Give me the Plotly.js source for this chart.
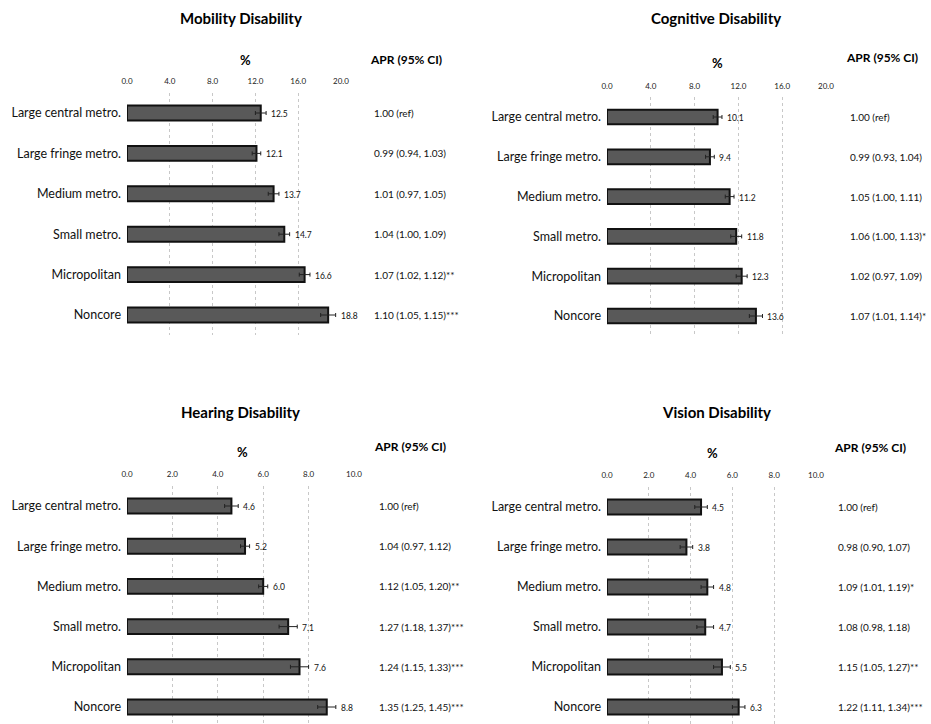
<!DOCTYPE html>
<html><head><meta charset="utf-8">
<script src="https://cdn.plot.ly/plotly-3.0.1.min.js"></script>
<style>html,body{margin:0;padding:0;background:#fff}#c{width:931px;height:724px}</style>
</head><body><div id="c"></div>
<script>
const categories = ["Large central metro.","Large fringe metro.","Medium metro.","Small metro.","Micropolitan","Noncore"];

const mobilityPct = [12.5,12.1,13.7,14.7,16.6,18.8];
const mobilityErr = [0.5,0.4,0.5,0.5,0.5,0.7];
const mobilityAPR = ["1.00 (ref)","0.99 (0.94, 1.03)","1.01 (0.97, 1.05)","1.04 (1.00, 1.09)","1.07 (1.02, 1.12)**","1.10 (1.05, 1.15)***"];

const cognitivePct = [10.1,9.4,11.2,11.8,12.3,13.6];
const cognitiveErr = [0.4,0.4,0.4,0.5,0.5,0.6];
const cognitiveAPR = ["1.00 (ref)","0.99 (0.93, 1.04)","1.05 (1.00, 1.11)","1.06 (1.00, 1.13)*","1.02 (0.97, 1.09)","1.07 (1.01, 1.14)*"];

const hearingPct = [4.6,5.2,6.0,7.1,7.6,8.8];
const hearingErr = [0.3,0.2,0.2,0.4,0.4,0.4];
const hearingAPR = ["1.00 (ref)","1.04 (0.97, 1.12)","1.12 (1.05, 1.20)**","1.27 (1.18, 1.37)***","1.24 (1.15, 1.33)***","1.35 (1.25, 1.45)***"];

const visionPct = [4.5,3.8,4.8,4.7,5.5,6.3];
const visionErr = [0.3,0.3,0.3,0.4,0.4,0.3];
const visionAPR = ["1.00 (ref)","0.98 (0.90, 1.07)","1.09 (1.01, 1.19)*","1.08 (0.98, 1.18)","1.15 (1.05, 1.27)**","1.22 (1.11, 1.34)***"];

const titles = ["Mobility Disability","Cognitive Disability","Hearing Disability","Vision Disability"];
const xTickVals20 = [0,4,8,12,16,20];
const xTickVals10 = [0,2,4,6,8,10];

const FONT = "Lato, 'Open Sans', sans-serif";
const W = 931, H = 724;
const px = v => v / W;
const py = v => 1 - v / H;

const panels = [
  {pct: mobilityPct, err: mobilityErr, apr: mobilityAPR, title: titles[0], ticks: xTickVals20, max: 20,
   xd: [127, 341], yd: [92.8, 335.2], yr: [5.5, -0.5], titleX: 241, titleY: 18, pctX: 245, pctY: 60, aprHX: 406, aprHY: 59, aprX: 372},
  {pct: cognitivePct, err: cognitiveErr, apr: cognitiveAPR, title: titles[1], ticks: xTickVals20, max: 20,
   xd: [607, 826], yd: [97.1, 335.9], yr: [5.5, -0.5], titleX: 716, titleY: 18, pctX: 717, pctY: 63, aprHX: 882, aprHY: 58, aprX: 848},
  {pct: hearingPct, err: hearingErr, apr: hearingAPR, title: titles[2], ticks: xTickVals10, max: 10,
   xd: [127, 354], yd: [485.9, 724], yr: [5.423, -0.5], titleX: 241, titleY: 412, pctX: 242, pctY: 452, aprHX: 410, aprHY: 446, aprX: 377},
  {pct: visionPct, err: visionErr, apr: visionAPR, title: titles[3], ticks: xTickVals10, max: 10,
   xd: [607, 816], yd: [487, 724], yr: [5.425, -0.5], titleX: 716, titleY: 412, pctX: 712, pctY: 453, aprHX: 870, aprHY: 447, aprX: 836}
];

const data = [];
const layout = {
  width: W, height: H,
  margin: {l: 0, r: 0, t: 0, b: 0},
  paper_bgcolor: "#fff", plot_bgcolor: "rgba(0,0,0,0)",
  showlegend: false,
  font: {family: FONT, color: "#111"},
  annotations: []
};

panels.forEach((p, i) => {
  const n = i + 1;
  const xa = n === 1 ? "x" : "x" + n;
  const ya = n === 1 ? "y" : "y" + n;
  data.push({
    type: "bar", orientation: "h",
    x: p.pct, y: categories,
    xaxis: xa, yaxis: ya,
    width: 0.37,
    marker: {color: "#595959", line: {color: "#111", width: 2}},
    error_x: {type: "data", array: p.err, visible: true, color: "#222", thickness: 1, width: 2},
    hoverinfo: "skip"
  });
  layout["xaxis" + (n === 1 ? "" : n)] = {
    domain: [px(p.xd[0]), px(p.xd[1])],
    anchor: ya, side: "top",
    range: [0, p.max], fixedrange: true,
    tickvals: p.ticks, ticktext: p.ticks.map(v => v.toFixed(1)),
    ticks: "", ticklabelstandoff: 6,
    tickfont: {size: 8, family: FONT, color: "#222"},
    showgrid: true, gridcolor: "#c8c8c8", griddash: "dot", gridwidth: 1,
    zeroline: false, showline: false
  };
  layout["yaxis" + (n === 1 ? "" : n)] = {
    domain: [py(p.yd[1]), py(p.yd[0])],
    anchor: xa, type: "category",
    range: p.yr, fixedrange: true,
    ticks: "", ticklabelstandoff: 5,
    tickfont: {size: 12.5, family: FONT, color: "#111"},
    showgrid: false, zeroline: false, showline: false
  };
  layout.annotations.push({xref: "paper", yref: "paper", x: px(p.titleX), y: py(p.titleY),
    text: "<b>" + p.title + "</b>", showarrow: false, xanchor: "center", yanchor: "middle",
    font: {size: 15, family: FONT, color: "#000"}});
  layout.annotations.push({xref: "paper", yref: "paper", x: px(p.pctX), y: py(p.pctY),
    text: "<b>%</b>", showarrow: false, xanchor: "center", yanchor: "middle",
    font: {size: 13, family: FONT, color: "#000"}});
  layout.annotations.push({xref: "paper", yref: "paper", x: px(p.aprHX), y: py(p.aprHY),
    text: "<b>APR (95% CI)</b>", showarrow: false, xanchor: "center", yanchor: "middle",
    font: {size: 12, family: FONT, color: "#000"}});
  categories.forEach((c, k) => {
    layout.annotations.push({xref: xa, yref: ya, x: p.pct[k] + p.err[k], y: c,
      text: p.pct[k].toFixed(1), showarrow: false, xanchor: "left", yanchor: "middle",
      xshift: 3, yshift: -1, font: {size: 8.5, family: FONT, color: "#111"}});
    layout.annotations.push({xref: "paper", yref: ya, x: px(p.aprX), y: c,
      text: p.apr[k], showarrow: false, xanchor: "left", yanchor: "middle",
      font: {size: 10, family: FONT, color: "#111"}});
  });
});

Plotly.newPlot("c", data, layout, {displayModeBar: false, staticPlot: true});
</script>
</body></html>
